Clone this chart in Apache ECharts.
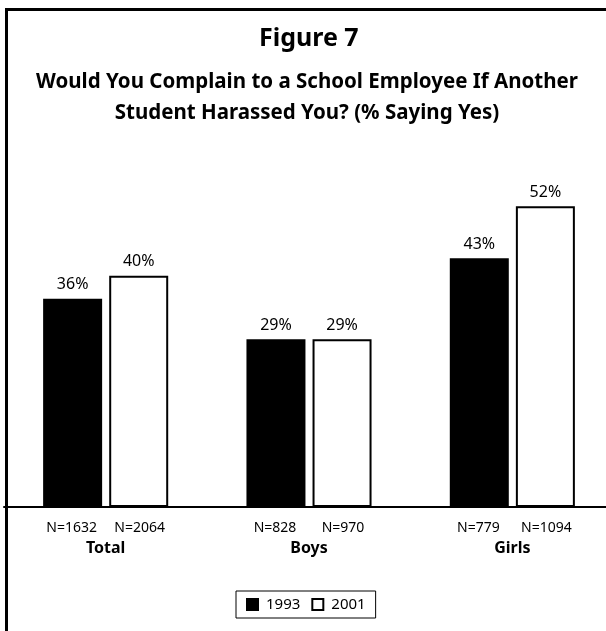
<!DOCTYPE html>
<html>
<head>
<meta charset="utf-8">
<script src="https://cdn.jsdelivr.net/npm/echarts@6/dist/echarts.min.js"></script>
<style>
html,body{margin:0;padding:0;background:#fff;overflow:hidden;width:606px;height:631px;}
#chart{width:614px;height:631px;}
</style>
</head>
<body>
<div id="chart"></div>
<script>
const categories = ['Total', 'Boys', 'Girls'];
const seriesNames = ['1993', '2001'];
const values1993 = [36, 29, 43];
const values2001 = [40, 29, 52];
const n1993 = [1632, 828, 779];
const n2001 = [2064, 970, 1094];
const titleText = 'Figure 7';
const subtitleLines = ['Would You Complain to a School Employee If Another', 'Student Harassed You? (% Saying Yes)'];

const FONT = 'Noto Sans';
const chart = echarts.init(document.getElementById('chart'));
const subStyle = { fontFamily: FONT, fontSize: 20.5, fontWeight: 'bold', color: '#000' };
chart.setOption({
  backgroundColor: '#fff',
  animation: false,
  textStyle: { fontFamily: FONT, color: '#000' },
  title: [
    { text: titleText, left: 254, top: 21,
      textStyle: { fontFamily: FONT, fontSize: 25, fontWeight: 'bold', color: '#000' } },
    { text: subtitleLines[0], left: 'center', top: 67, textStyle: subStyle },
    { text: subtitleLines[1], left: 'center', top: 98, textStyle: subStyle }
  ],
  graphic: [
    { type: 'polyline', shape: { points: [[6.5, 631], [6.5, 9.5], [614, 9.5]] },
      style: { stroke: '#000', lineWidth: 3, fill: null }, z: 100 }
  ],
  legend: {
    data: seriesNames, left: 236, top: 591,
    padding: [6, 10], borderColor: '#000', borderWidth: 1,
    itemWidth: 11, itemHeight: 11, itemGap: 11,
    icon: 'rect',
    textStyle: { fontFamily: FONT, fontSize: 15, color: '#000', padding: [0, 0, 0, 3] }
  },
  grid: { left: 4, right: 0, top: 160, bottom: 124, containLabel: false },
  xAxis: {
    type: 'category', data: categories,
    axisLine: { lineStyle: { color: '#000', width: 2 } },
    axisTick: { show: false },
    axisLabel: {
      margin: 11, align: 'center',
      formatter: function (v, i) {
        return '{n|N=' + n1993[i] + '}{n|N=' + n2001[i] + '}\n{c|' + v + '}';
      },
      rich: {
        n: { width: 68, align: 'center', fontSize: 14, fontFamily: FONT, color: '#000', lineHeight: 20 },
        c: { fontSize: 16, fontWeight: 'bold', fontFamily: FONT, color: '#000', lineHeight: 20 }
      }
    }
  },
  yAxis: { type: 'value', min: 0, max: 60, show: false, splitLine: { show: false } },
  series: [
    { name: '1993', type: 'bar', data: values1993, barWidth: 59, barGap: '12%',
      itemStyle: { color: '#000', borderColor: '#000', borderWidth: 2 },
      label: { show: true, position: 'top', distance: 6, formatter: '{c}%', fontSize: 16, fontFamily: FONT, color: '#000' } },
    { name: '2001', type: 'bar', data: values2001, barWidth: 59,
      itemStyle: { color: '#fff', borderColor: '#000', borderWidth: 2 },
      label: { show: true, position: 'top', distance: 6, formatter: '{c}%', fontSize: 16, fontFamily: FONT, color: '#000' } }
  ]
});
</script>
</body>
</html>
